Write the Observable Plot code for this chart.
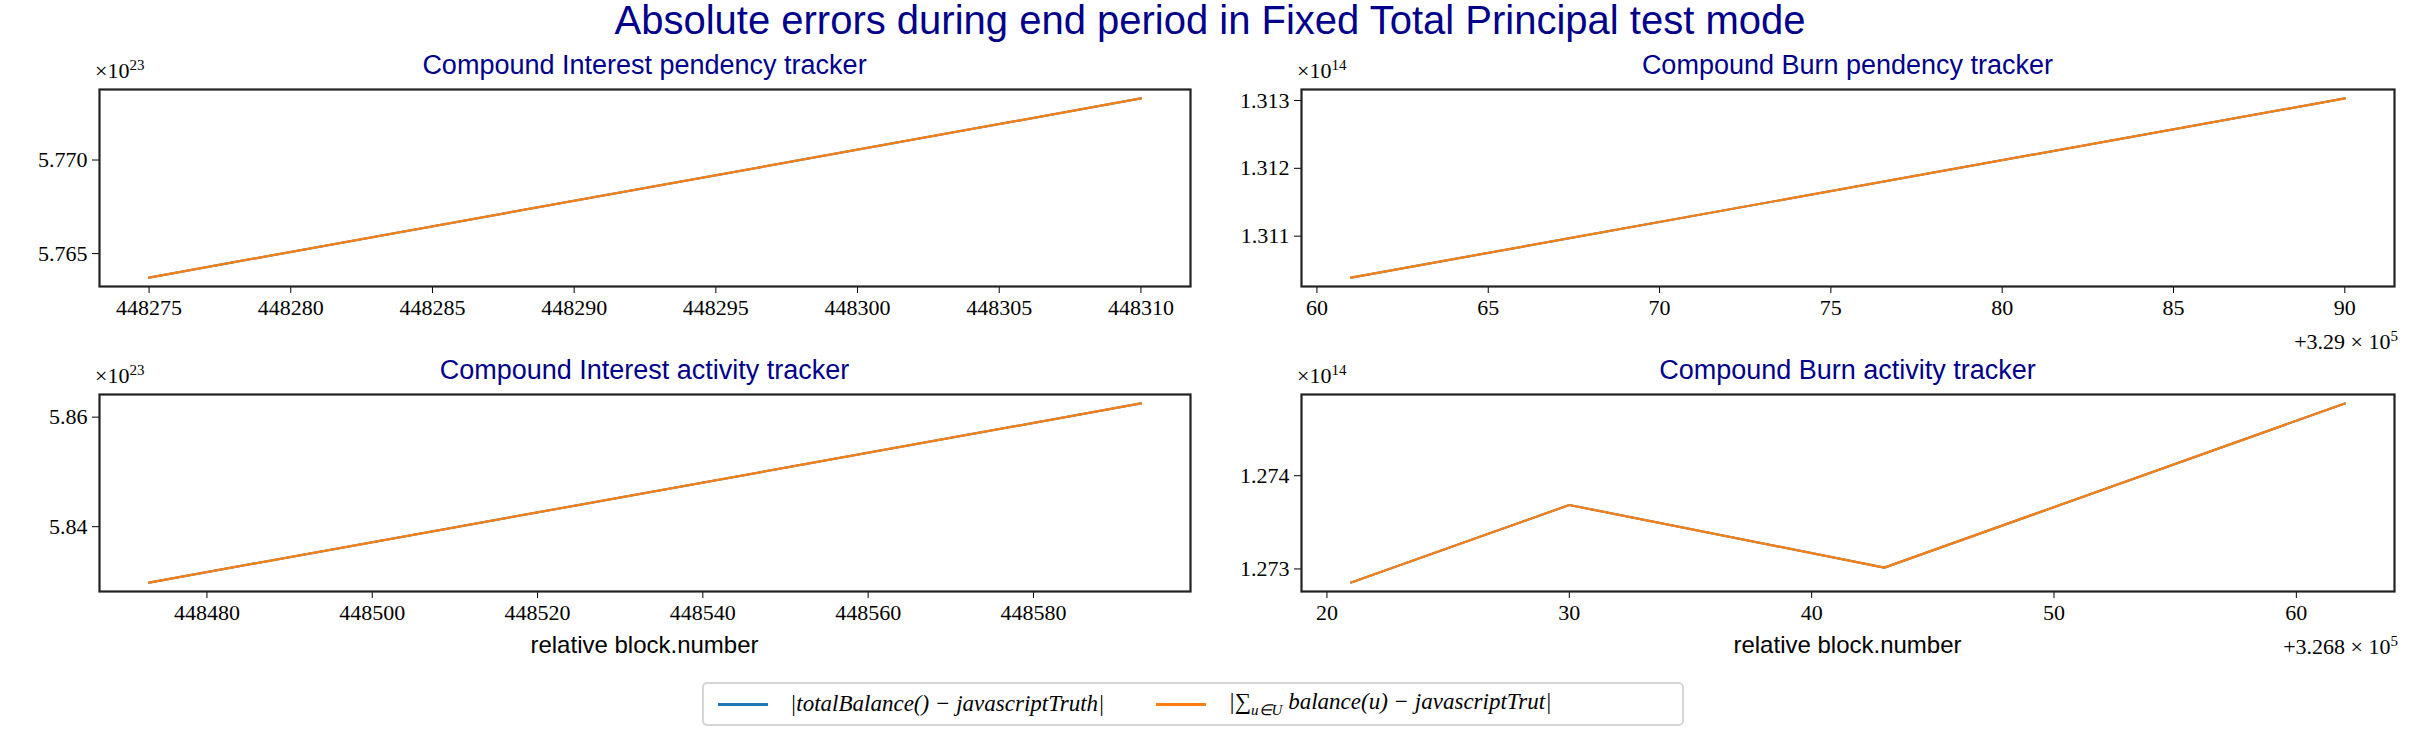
<!DOCTYPE html>
<html><head><meta charset="utf-8">
<script src="https://cdn.jsdelivr.net/npm/d3@7"></script>
<script src="https://cdn.jsdelivr.net/npm/@observablehq/plot@0.6"></script>
<style>
body{margin:0;background:#fff;width:2420px;height:737px;position:relative;overflow:hidden;font-family:"Liberation Serif",serif}
.abs{position:absolute}
.title{font-family:"Liberation Sans",sans-serif;color:#00008b;white-space:nowrap;transform:translateX(-50%)}
.off{font-family:"Liberation Serif",serif;font-size:22px;white-space:nowrap}
.xl{font-family:"Liberation Sans",sans-serif;font-size:24px;transform:translateX(-50%);white-space:nowrap}
#legend{left:702px;top:682px;width:982px;height:44px;border:2px solid #d6d6d6;border-radius:5px;box-sizing:border-box;display:flex;align-items:center;font-size:23px;font-style:italic}
.sw{display:inline-block;width:50px;height:3px;margin:0 22px 0 14px}
</style></head><body>
<script>
// Data (y in units of the shown exponent)
const tlX=[448275,448310], tlY=[5.76372,5.77329];
const trX=[329061,329090], trY=[1.31039,1.31303];
const blX=[448473,448593], blY=[5.8298,5.8625];
const brX=[326821,326830,326843,326862], brY=[1.272854,1.273686,1.273014,1.274775];
const series=["|totalBalance() − javascriptTruth|","|∑u∈U balance(u) − javascriptTrut|"];
const colors=["#1f77b4","#ff7f0e"];
const panels=[
 {x:tlX,y:tlY,fx:99,fy:89,fw:1091,fh:197,xt:d3.range(448275,448311,5),xf:d=>String(d),yt:[5.765,5.770],yf:d3.format(".3f"),exp:"23",title:"Compound Interest pendency tracker"},
 {x:trX,y:trY,fx:1301,fy:89,fw:1093,fh:197,xt:d3.range(329060,329091,5),xf:d=>String(d-329000),yt:[1.311,1.312,1.313],yf:d3.format(".3f"),exp:"14",title:"Compound Burn pendency tracker",off:"+3.29 × 10<sup>5</sup>"},
 {x:blX,y:blY,fx:99,fy:394,fw:1091,fh:197,xt:d3.range(448480,448581,20),xf:d=>String(d),yt:[5.84,5.86],yf:d3.format(".2f"),exp:"23",title:"Compound Interest activity tracker",xl:true},
 {x:brX,y:brY,fx:1301,fy:394,fw:1093,fh:197,xt:d3.range(326820,326861,10),xf:d=>String(d-326800),yt:[1.273,1.274],yf:d3.format(".3f"),exp:"14",title:"Compound Burn activity tracker",xl:true,off:"+3.268 × 10<sup>5</sup>"}
];
function pad(a){const lo=d3.min(a),hi=d3.max(a),m=(hi-lo)*0.05;return [lo-m,hi+m];}
const ML=100,MR=10,MT=10,MB=45;
for(const p of panels){
  const rows=[];
  for(const s of series) p.x.forEach((x,i)=>rows.push({x,y:p.y[i],s}));
  const svg=Plot.plot({
    width:p.fw+ML+MR,height:p.fh+MT+MB,marginLeft:ML,marginRight:MR,marginTop:MT,marginBottom:MB,
    style:{fontFamily:"Liberation Serif, serif",fontSize:"22px",color:"#000",background:"transparent"},
    x:{domain:pad(p.x),ticks:p.xt,tickFormat:p.xf,label:null,tickSize:7,tickPadding:6},
    y:{domain:pad(p.y),ticks:p.yt,tickFormat:p.yf,label:null,tickSize:7,tickPadding:5},
    color:{domain:series,range:colors},
    marks:[
      Plot.axisX({ticks:p.xt,tickFormat:p.xf,tickSize:7,tickPadding:6,fontSize:22,label:null}),
      Plot.axisY({ticks:p.yt,tickFormat:p.yf,tickSize:7,tickPadding:5,fontSize:22,label:null}),
      Plot.line(rows,{x:"x",y:"y",z:"s",stroke:"s",strokeWidth:2.2}),
      Plot.frame({stroke:"#222",strokeWidth:2.2})
    ]
  });
  svg.classList.add("abs");svg.style.left=(p.fx-ML)+"px";svg.style.top=(p.fy-MT)+"px";
  document.body.appendChild(svg);
  const t=document.createElement("div");t.className="abs title";t.style.fontSize="27px";
  t.style.left=(p.fx+p.fw/2)+"px";t.style.top=(p.fy-39)+"px";t.textContent=p.title;document.body.appendChild(t);
  const e=document.createElement("div");e.className="abs off";e.style.left=(p.fx-4)+"px";e.style.top=(p.fy-32)+"px";
  e.innerHTML="×10<sup style='font-size:15px'>"+p.exp+"</sup>";document.body.appendChild(e);
  if(p.off){const o=document.createElement("div");o.className="abs off";o.style.right=(2420-p.fx-p.fw-4)+"px";o.style.top=(p.fy+p.fh+42)+"px";o.innerHTML=p.off.replace("<sup>","<sup style='font-size:15px'>");document.body.appendChild(o);}
  if(p.xl){const l=document.createElement("div");l.className="abs xl";l.style.left=(p.fx+p.fw/2)+"px";l.style.top=(p.fy+p.fh+40)+"px";l.textContent="relative block.number";document.body.appendChild(l);}
}
const T=document.createElement("div");T.className="abs title";T.style.fontSize="40px";T.style.left="1210px";T.style.top="-2px";
T.textContent="Absolute errors during end period in Fixed Total Principal test mode";document.body.appendChild(T);
const L=document.createElement("div");L.id="legend";L.className="abs";
L.innerHTML=`<span class="sw" style="background:${colors[0]}"></span><span>|totalBalance() − javascriptTruth|</span>
<span class="sw" style="background:${colors[1]};margin-left:52px"></span><span>|∑<sub style="font-size:15px">u∈U</sub> balance(u) − javascriptTrut|</span>`;
document.body.appendChild(L);
</script>
</body></html>
